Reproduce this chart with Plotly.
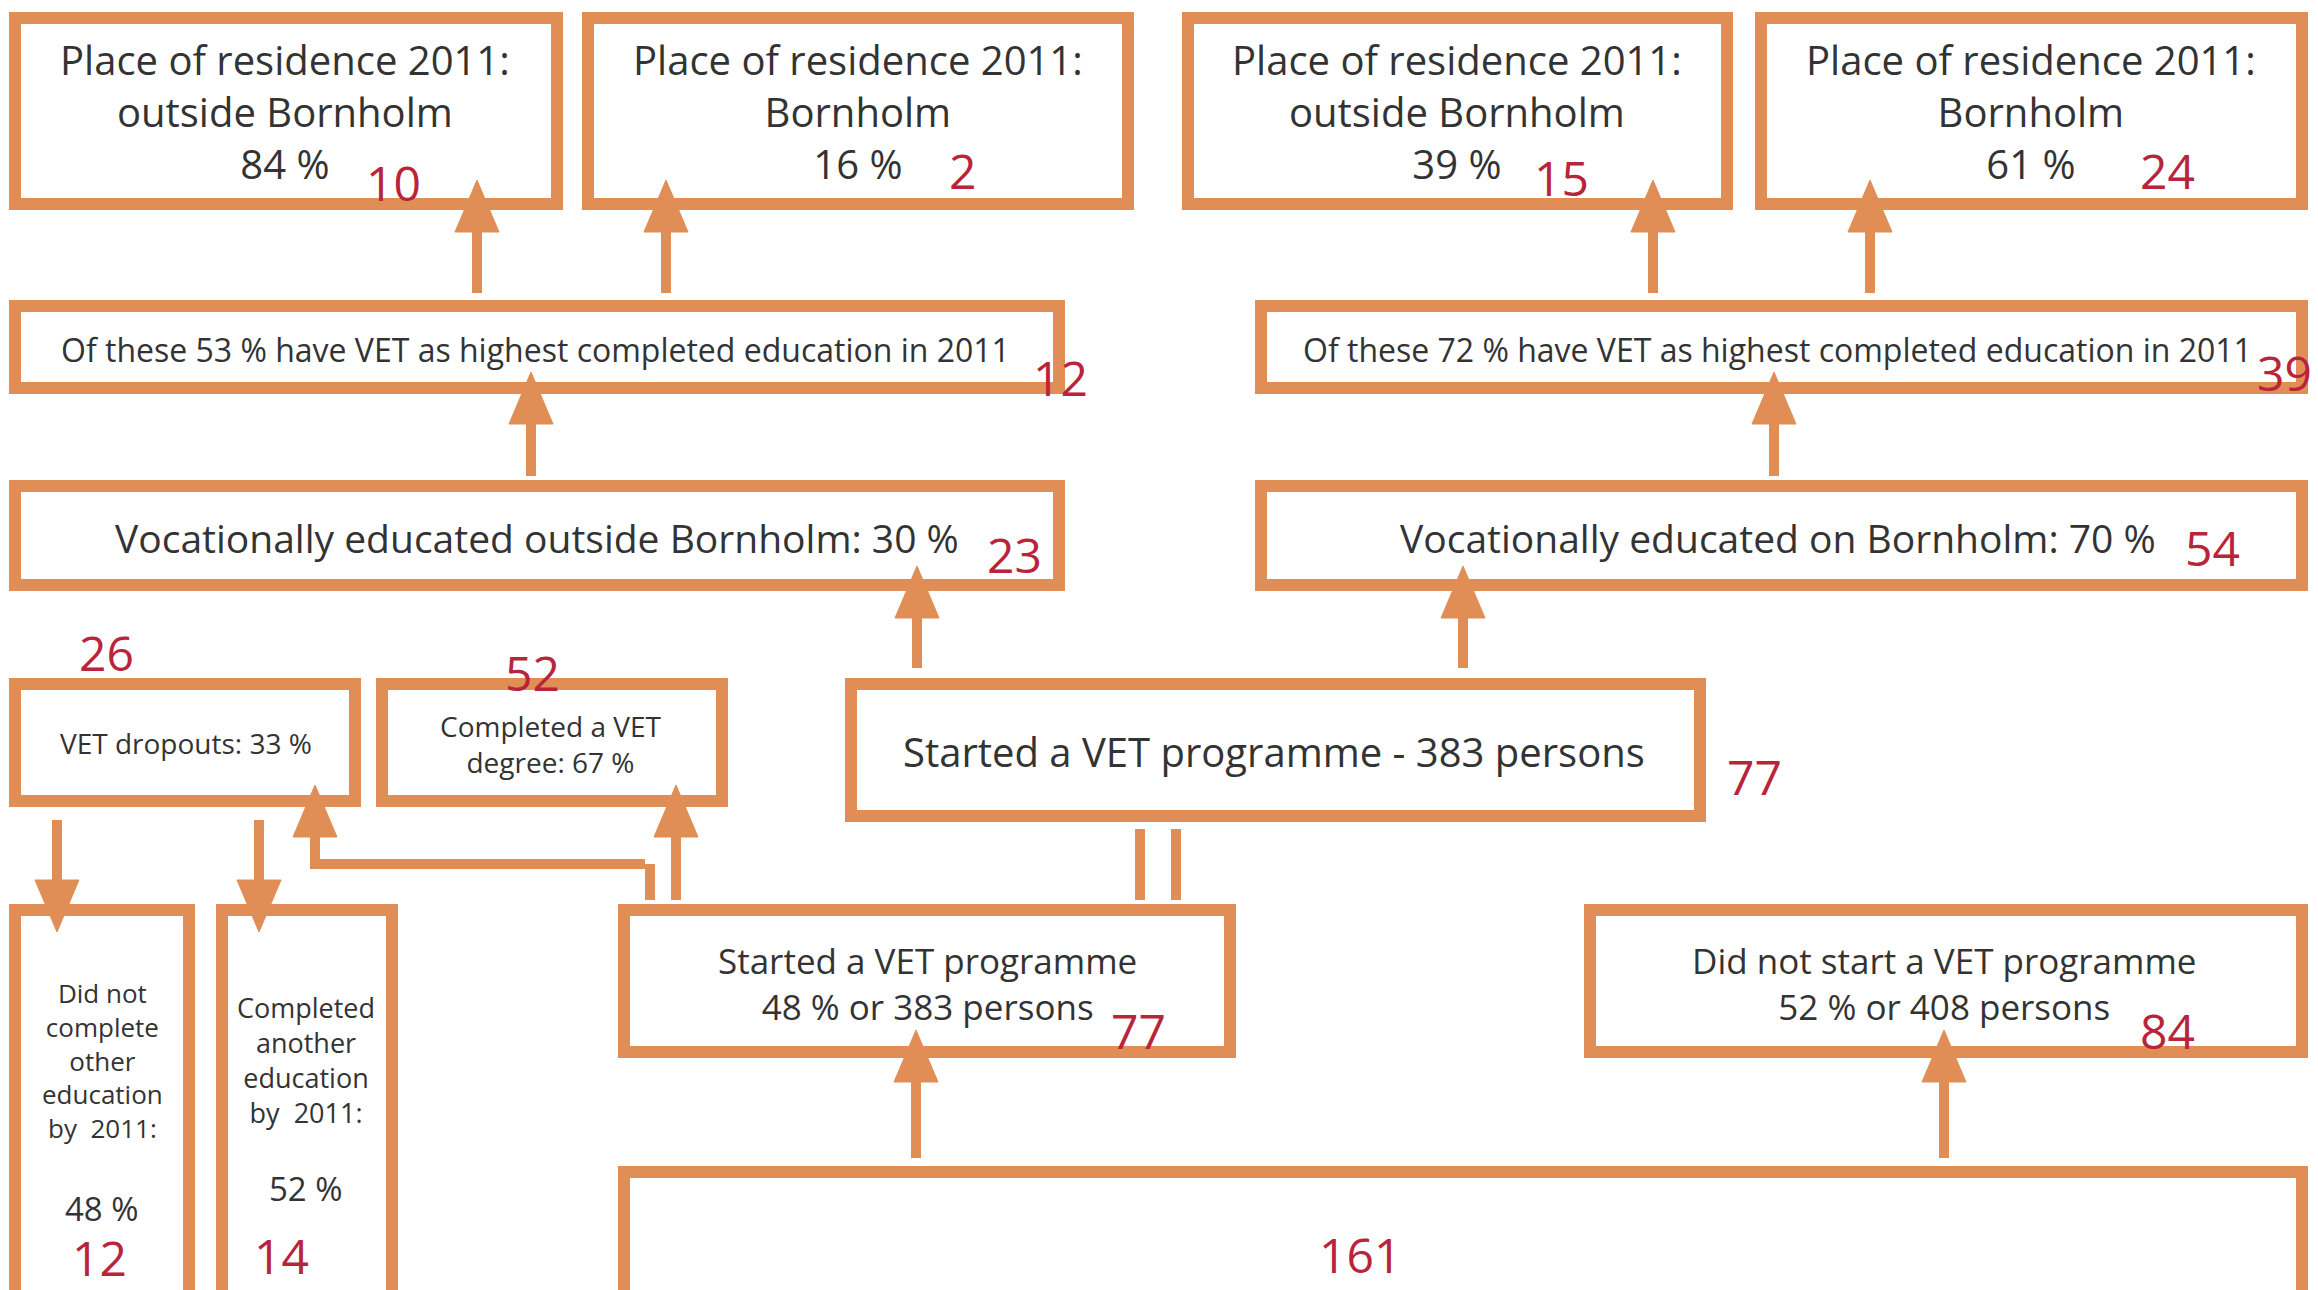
import plotly.graph_objects as go

# ---------------- data ----------------
residence_places = ["outside Bornholm", "Bornholm", "outside Bornholm", "Bornholm"]
residence_pct = [84, 16, 39, 61]
residence_n = [10, 2, 15, 24]

vet_highest_pct = [53, 72]
vet_highest_n = [12, 39]

educated_where = ["outside Bornholm", "on Bornholm"]
educated_pct = [30, 70]
educated_n = [23, 54]

dropout_pct = 33
dropout_n = 26
completed_pct = 67
completed_n = 52

started_persons = 383
started_pct = 48
started_n = 77
notstarted_persons = 408
notstarted_pct = 52
notstarted_n = 84

dropout_outcome_pct = [48, 52]
dropout_outcome_n = [12, 14]

total_n = 161

# ---------------- style / layout ----------------
W, H = 2318, 1290
ORANGE = "#E08E55"
RED = "#B8243A"
TEXT = "#333333"
FONT = "Open Sans, Liberation Sans, sans-serif"
BW = 12  # border width
RS = 48  # red number font size

shapes = []
annotations = []


def box(x0, y0, x1, y1):
    h = BW / 2
    shapes.append(dict(type="rect", xref="x", yref="y",
                       x0=x0 + h, y0=y0 + h, x1=x1 - h, y1=y1 - h,
                       line=dict(color=ORANGE, width=BW), fillcolor="white",
                       layer="below"))


def vline(x, y0, y1, w=10):
    shapes.append(dict(type="line", xref="x", yref="y", x0=x, x1=x, y0=y0, y1=y1,
                       line=dict(color=ORANGE, width=w)))


def hline(x0, x1, y, w=10):
    shapes.append(dict(type="line", xref="x", yref="y", x0=x0, x1=x1, y0=y, y1=y,
                       line=dict(color=ORANGE, width=w)))


def arrow(x, y_from, y_tip, hw=22, hh=52):
    d = 1 if y_tip < y_from else -1  # 1 = up
    base = y_tip + d * hh
    vline(x, y_from, base + d * (-2))
    shapes.append(dict(type="path", xref="x", yref="y",
                       path=f"M {x-hw},{base} L {x+hw},{base} L {x},{y_tip} Z",
                       fillcolor=ORANGE, line=dict(color=ORANGE, width=1)))


def text(x, y, s, size, color=TEXT):
    annotations.append(dict(x=x, y=y, xref="x", yref="y", text=s, showarrow=False,
                            font=dict(family=FONT, size=size, color=color),
                            xanchor="center", yanchor="middle", align="center"))


# top row boxes
top_boxes = [(9, 12, 563, 210), (582, 12, 1134, 210), (1182, 12, 1733, 210), (1755, 12, 2308, 210)]
top_text_x = [285, 858, 1457, 2031]
top_red_xy = [(393, 182), (962, 170), (1561, 177), (2167, 170)]
for (b, tx, rxy, place, pct, n) in zip(top_boxes, top_text_x, top_red_xy,
                                        residence_places, residence_pct, residence_n):
    box(*b)
    text(tx, 111, f"Place of residence 2011:<br>{place}<br>{pct} %", 40)
    text(rxy[0], rxy[1], str(n), RS, RED)

# row 2
row2_boxes = [(9, 300, 1065, 394), (1255, 300, 2308, 394)]
row2_text_x = [535, 1777]
row2_red_xy = [(1060, 377), (2284, 372)]
for b, tx, rxy, pct, n in zip(row2_boxes, row2_text_x, row2_red_xy, vet_highest_pct, vet_highest_n):
    box(*b)
    text(tx, 349, f"Of these {pct} % have VET as highest completed education in 2011", 32)
    text(rxy[0], rxy[1], str(n), RS, RED)

# row 3
row3_boxes = [(9, 480, 1065, 591), (1255, 480, 2308, 591)]
row3_text_x = [537, 1778]
row3_red_xy = [(1014, 554), (2212, 547)]
for b, tx, rxy, where, pct, n in zip(row3_boxes, row3_text_x, row3_red_xy,
                                     educated_where, educated_pct, educated_n):
    box(*b)
    text(tx, 537, f"Vocationally educated {where}: {pct} %", 39)
    text(rxy[0], rxy[1], str(n), RS, RED)

# dropouts / completed
box(9, 678, 361, 807)
text(186, 743, f"VET dropouts: {dropout_pct} %", 28)
text(106, 652, str(dropout_n), RS, RED)
box(376, 678, 728, 807)
text(551, 744, f"Completed a VET<br>degree: {completed_pct} %", 28)
text(532, 672, str(completed_n), RS, RED)

# started 383 box
box(845, 678, 1706, 822)
text(1274, 751, f"Started a VET programme - {started_persons} persons", 40)
text(1754, 776, str(started_n), RS, RED)

# dropout outcome columns
box(9, 904, 195, 1310)
text(102, 1060, "Did not<br>complete<br>other<br>education<br>by  2011:", 26)
text(102, 1208, f"{dropout_outcome_pct[0]} %", 33)
text(99, 1257, str(dropout_outcome_n[0]), RS, RED)
box(216, 904, 398, 1310)
text(306, 1060, "Completed<br>another<br>education<br>by  2011:", 27)
text(306, 1188, f"{dropout_outcome_pct[1]} %", 33)
text(281, 1255, str(dropout_outcome_n[1]), RS, RED)

# started 48 % / did not start
box(618, 904, 1236, 1058)
text(927, 983, f"Started a VET programme<br>{started_pct} % or {started_persons} persons", 35)
text(1138, 1030, str(started_n), RS, RED)
box(1584, 904, 2308, 1058)
text(1944, 983, f"Did not start a VET programme<br>{notstarted_pct} % or {notstarted_persons} persons", 35)
text(2167, 1030, str(notstarted_n), RS, RED)

# bottom total box
box(618, 1166, 2308, 1320)
text(1360, 1254, str(total_n), RS, RED)

# ---------------- arrows ----------------
for x in [477, 666, 1653, 1870]:
    arrow(x, 293, 180)
for x in [531, 1774]:
    arrow(x, 476, 372)
for x in [917, 1463]:
    arrow(x, 668, 566)
# double connector
vline(1140, 829, 900)
vline(1176, 829, 900)
# bottom to row
arrow(916, 1158, 1030)
arrow(1944, 1158, 1030)
# started -> completed
arrow(676, 900, 785)
# elbow to dropouts
vline(650, 900, 864)
hline(645, 315, 864)
arrow(315, 869, 785)
# down arrows from dropouts
arrow(57, 820, 932)
arrow(259, 820, 932)

fig = go.Figure()
fig.update_layout(
    width=W, height=H,
    margin=dict(l=0, r=0, t=0, b=0),
    paper_bgcolor="white", plot_bgcolor="white",
    xaxis=dict(range=[0, W], visible=False, fixedrange=True),
    yaxis=dict(range=[H, 0], visible=False, fixedrange=True),
    shapes=shapes, annotations=annotations, showlegend=False,
)
fig.write_html("out.html", config={"displayModeBar": False},
               post_script="document.body.style.margin='0';document.body.style.overflow='hidden';")
